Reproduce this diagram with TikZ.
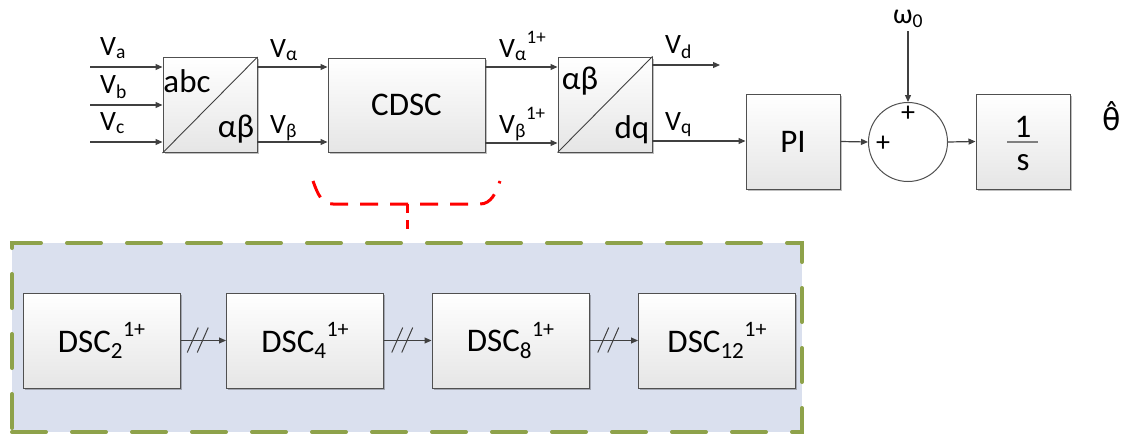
\documentclass[tikz,border=0pt]{standalone}
\usepackage{fontspec}
\setmainfont{Carlito}
\newfontfamily\dejavu{DejaVu Sans}
\usetikzlibrary{arrows.meta,calc,shadows}
\definecolor{ln}{HTML}{404040}
\definecolor{bxline}{HTML}{505050}
\definecolor{grpfill}{HTML}{DAE0EE}
\definecolor{grpline}{HTML}{8EA24A}
\definecolor{bracered}{HTML}{FF0000}
\newcommand\myblkfont{\fontsize{33}{38}\selectfont}
\newcommand\mylblfont{\fontsize{28}{32}\selectfont}
\newcommand\supL[1]{\raisebox{0.47em}{\fontsize{19}{22}\selectfont #1}}
\newcommand\supB[1]{\raisebox{0.47em}{\fontsize{22}{26}\selectfont #1}}
\tikzset{
  blk/.style={draw=bxline, line width=1pt, top color=white, bottom color=black!10,
    drop shadow={shadow xshift=1.5pt, shadow yshift=-1.5pt, opacity=0.25, fill=black},
    minimum width=94pt, minimum height=95pt, inner sep=0pt, font=\myblkfont},
  dscblk/.style={blk, minimum width=157pt, minimum height=95pt},
  conn/.style={draw=ln, line width=1.2pt},
  arr/.style={conn, -{Triangle[length=7pt,width=6pt]}},
  lbl/.style={font=\mylblfont, inner sep=0pt, anchor=base west},
  txt/.style={font=\myblkfont, inner sep=0pt},
}
\begin{document}
\begin{tikzpicture}[x=1pt,y=-1pt]
\useasboundingbox (0,0) rectangle (1129,434);

% group panel
\node[draw=grpline, fill=grpfill, line width=4pt, line cap=round,
      dash pattern=on 34pt off 26pt, minimum width=790pt, minimum height=189pt,
      inner sep=0pt] (grp) at (407,337.5) {};

% red bracket
\draw[bracered, line width=3pt, dash pattern=on 18pt off 12pt]
  (313,181) .. controls (318,195) and (322,204) .. (333,204) -- (480,204)
  .. controls (491,204) and (496,193) .. (500,181);
\coordinate (bk) at (407,204);
\coordinate (bkend) at (407,230);
\draw[bracered, line width=3pt, dash pattern=on 9pt off 7pt] (bk) -- (bkend);

% abc / alpha-beta block
\node[blk] (abc) at (210,105) {};
\draw[conn, line width=0.9pt] (abc.south west) -- (abc.north east);
\node[txt] (abct) at (187,81) {abc};
\node[txt] (abab) at (236,129) {αβ};

% inputs
\coordinate (ia) at (90,67);
\coordinate (ib) at (90,105);
\coordinate (ic) at (90,142);
\draw[arr] (ia) -- (ia -| abc.west);
\draw[arr] (ib) -- (ib -| abc.west);
\draw[arr] (ic) -- (ic -| abc.west);
\node[lbl] (lva) at (100,55) {V\textsubscript{a}};
\node[lbl] (lvb) at (100,93) {V\textsubscript{b}};
\node[lbl] (lvc) at (100,130) {V\textsubscript{c}};

% CDSC
\node[blk, minimum width=157pt, minimum height=94pt] (cdsc) at (406.5,105) {CDSC};
\coordinate (oa) at (257,67);
\coordinate (ob) at (257,142);
\draw[arr] (oa) -- (oa -| cdsc.west);
\draw[arr] (ob) -- (ob -| cdsc.west);
\node[lbl] (lval) at (270,57) {V\textsubscript{α}};
\node[lbl] (lvbe) at (270,133) {V\textsubscript{β}};

% alpha-beta / dq block
\node[blk] (dq) at (605,104.5) {};
\draw[conn, line width=0.9pt] (dq.south west) -- (dq.north east);
\node[txt] (dqab) at (580,81) {αβ};
\node[txt] (dqdq) at (632,130) {dq};
\coordinate (ca) at (485,67);
\coordinate (cb) at (485,143);
\draw[arr] (ca) -- (ca -| dq.west);
\draw[arr] (cb) -- (cb -| dq.west);
\node[lbl] (lvap) at (499,57) {V\textsubscript{α}\supL{1+}};
\node[lbl] (lvbp) at (499,133) {V\textsubscript{β}\supL{1+}};

% PI, sum, integrator
\node[blk] (pi) at (793,141.5) {PI};
\node[draw=bxline, line width=1pt, circle, minimum size=79pt, inner sep=0pt,
      fill=white] (sum) at (908,142) {};
\node[blk] (integ) at (1023,141.5) {};
\node[txt] (one) at (1023,127) {1};
\node[txt] (ess) at (1023,163) {s};
\coordinate (fl) at (1007,142);
\coordinate (fr) at (1038,142);
\draw[draw=gray, line width=1.5pt] (fl) -- (fr);

\coordinate (vd0) at (652,65);
\coordinate (vd1) at (720,65);
\draw[arr] (vd0) -- (vd1);
\coordinate (vq0) at (652,141);
\draw[arr] (vq0) -- (vq0 -| pi.west);
\node[lbl] (lvd) at (665,53) {V\textsubscript{d}};
\node[lbl] (lvq) at (665,130) {V\textsubscript{q}};

\draw[arr] (pi.east) -- (sum.west);
\draw[arr] (sum.east) -- (integ.west);
\node[font=\mylblfont, inner sep=0pt] (om) at (908,19) {ω\textsubscript{0}};
\coordinate (omb) at (908,31);
\draw[arr] (omb) -- (sum.north);
\node[font=\mylblfont, inner sep=0pt] (pt) at (908,114) {+};
\node[font=\mylblfont, inner sep=0pt] (pl) at (883,144) {+};
\node[font=\fontsize{30}{34}\selectfont\dejavu, inner sep=0pt] (theta) at (1112,116) {θ̂};

% DSC chain
\node[dscblk] (d2) at (101.5,340.5) {DSC\textsubscript{2}\supB{1+}};
\node[dscblk] (d4) at (305,340.5) {DSC\textsubscript{4}\supB{1+}};
\node[dscblk] (d8) at (510.5,340.5) {DSC\textsubscript{8}\supB{1+}};
\node[dscblk] (d12) at (717,340.5) {DSC\textsubscript{12}\supB{1+}};
\foreach \a/\b/\m in {d2/d4/m1, d4/d8/m2, d8/d12/m3}{
  \draw[arr, line width=1pt] (\a.east) -- coordinate[pos=0.5] (\m) (\b.west);
  \draw[conn, line width=1pt] ($(\m)+(-16,12)$) -- ($(\m)+(-5,-13)$);
  \draw[conn, line width=1pt] ($(\m)+(-6,12)$) -- ($(\m)+(5,-13)$);
}
\end{tikzpicture}
\end{document}
